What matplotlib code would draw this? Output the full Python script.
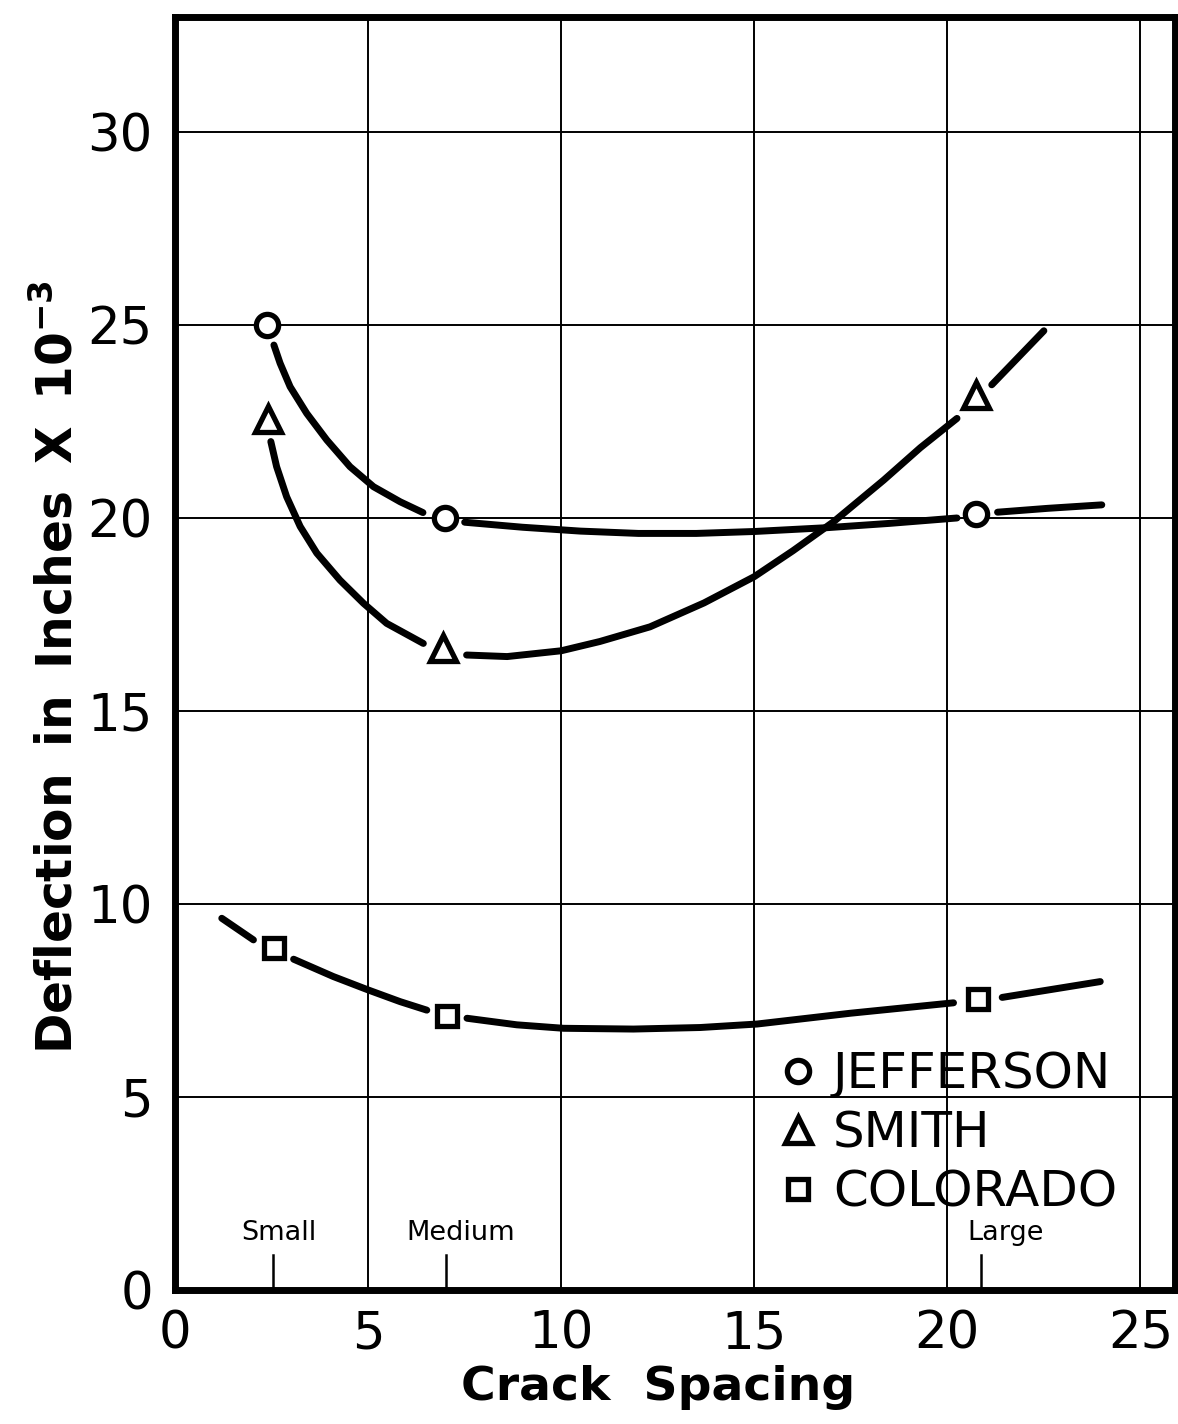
import matplotlib
matplotlib.use("Agg")
import matplotlib.pyplot as plt

# Measured deflections (inches x 10^-3) at the three crack spacings
jefferson_x = [2.38, 6.98, 20.75]
jefferson_y = [25.0, 20.0, 20.1]
smith_x = [2.42, 6.95, 20.73]
smith_y = [22.56, 16.62, 23.19]
colorado_x = [2.56, 7.04, 20.80]
colorado_y = [8.85, 7.10, 7.53]

# Hand-faired curves, broken where they meet the markers
jefferson_curve_x = [[2.56, 2.72, 2.98, 3.41, 3.93, 4.53, 5.14, 5.83, 6.42],
                     [7.5, 9.0, 10.5, 12.0, 13.5, 15.0, 16.9, 18.5, 20.25],
                     [21.3, 22.6, 24.0]]
jefferson_curve_y = [[24.48, 24.01, 23.40, 22.71, 22.02, 21.33, 20.81, 20.42, 20.14],
                     [19.89, 19.76, 19.66, 19.60, 19.60, 19.65, 19.75, 19.86, 20.0],
                     [20.15, 20.25, 20.34]]
smith_curve_x = [[2.48, 2.63, 2.89, 3.24, 3.67, 4.27, 4.88, 5.48, 6.43],
                 [7.55, 8.6, 10.0, 11.0, 12.3, 13.7, 15.0, 16.0, 17.05, 18.35, 19.3, 20.25],
                 [21.15, 22.5]]
smith_curve_y = [[21.98, 21.33, 20.55, 19.78, 19.09, 18.39, 17.79, 17.27, 16.75],
                 [16.45, 16.41, 16.56, 16.80, 17.18, 17.80, 18.48, 19.15, 19.90, 20.98, 21.82, 22.58],
                 [23.45, 24.85]]
colorado_curve_x = [[1.21, 2.03],
                    [3.07, 4.10, 5.01, 5.83, 6.52],
                    [7.56, 8.85, 10.06, 11.87, 13.6, 15.07, 17.49, 20.16],
                    [21.42, 23.96]]
colorado_curve_y = [[9.63, 9.07],
                    [8.57, 8.12, 7.77, 7.47, 7.25],
                    [7.04, 6.87, 6.78, 6.76, 6.80, 6.89, 7.17, 7.44],
                    [7.58, 7.99]]

# Crack spacing classes marked along the x axis
class_names = ["Small", "Medium", "Large"]
class_x = [2.53, 7.02, 20.88]
class_label_x = [2.7, 7.4, 21.5]

x_ticks = [0, 5, 10, 15, 20, 25]
y_ticks = [0, 5, 10, 15, 20, 25, 30]

plt.rcParams['font.family'] = ['DejaVu Sans']

fig = plt.figure(figsize=(11.78, 14.24), dpi=100)
ax = fig.add_axes([0.1486, 0.0941, 0.849, 0.894])

ax.set_xlim(0, 25.9)
ax.set_ylim(0, 32.98)
ax.set_xticks(x_ticks)
ax.set_yticks(y_ticks)
ax.grid(True, color='black', linewidth=1.4)
ax.set_axisbelow(True)
ax.tick_params(length=0, labelsize=37)
ax.tick_params(axis='y', pad=16)
ax.tick_params(axis='x', pad=14)
for s in ax.spines.values():
    s.set_linewidth(5)

line_kw = dict(color='black', linewidth=5, solid_capstyle='round',
               solid_joinstyle='round', zorder=3)
for cx, cy in zip(jefferson_curve_x, jefferson_curve_y):
    ax.plot(cx, cy, **line_kw)
for cx, cy in zip(smith_curve_x, smith_curve_y):
    ax.plot(cx, cy, **line_kw)
for cx, cy in zip(colorado_curve_x, colorado_curve_y):
    ax.plot(cx, cy, **line_kw)

mk_kw = dict(linestyle='none', markerfacecolor='white', markeredgecolor='black',
             markeredgewidth=3.8, zorder=4)
h1, = ax.plot(jefferson_x, jefferson_y, marker='o', markersize=16,
              label='JEFFERSON', **mk_kw)
h2, = ax.plot(smith_x, smith_y, marker='^', markersize=18.5,
              label='SMITH', **mk_kw)
h3, = ax.plot(colorado_x, colorado_y, marker='s', markersize=15,
              label='COLORADO', **mk_kw)

# Small / Medium / Large markers on the bottom axis
for name, cx, lx in zip(class_names, class_x, class_label_x):
    ax.plot([cx, cx], [0, 0.9], color='black', linewidth=1.8, zorder=3)
    ax.text(lx, 1.48, name, ha='center', va='center', fontsize=19.5)

leg = ax.legend(handles=[h1, h2, h3], loc='lower left',
                bbox_to_anchor=(0.603, 0.058), frameon=False, fontsize=36,
                handlelength=0.8, handletextpad=0.3, labelspacing=0.22,
                borderpad=0, borderaxespad=0)

ax.set_xlabel("Crack  Spacing", fontsize=34, fontweight='bold')
ax.xaxis.set_label_coords(0.483, -0.059)
ax.set_ylabel("Deflection \u2009in \u2009Inches \u2009X \u200910$^{\\mathbf{-3}}$",
              fontsize=35, fontweight='bold')
ax.yaxis.set_label_coords(-0.093, 0.489)

fig.savefig("out.png", dpi=100)
